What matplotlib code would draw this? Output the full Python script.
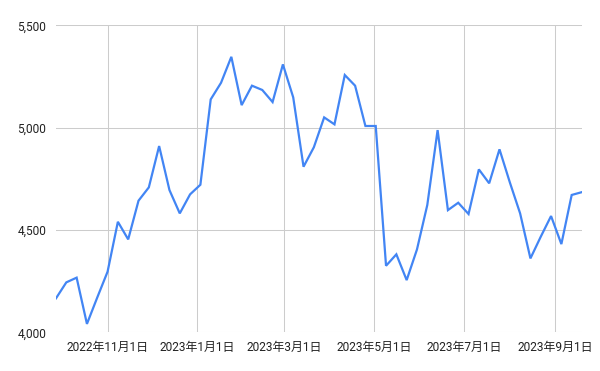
import matplotlib
matplotlib.use("Agg")
import matplotlib.pyplot as plt
import matplotlib.dates as mdates
import pandas as pd

start_date = "2022-09-27"
values = [4166, 4244, 4267, 4041, 4170, 4296, 4540, 4454, 4643, 4708,
          4910, 4695, 4581, 4674, 4721, 5138, 5219, 5346, 5110, 5205,
          5184, 5125, 5309, 5148, 4809, 4904, 5050, 5016, 5257, 5205,
          5008, 5008, 4325, 4381, 4255, 4405, 4622, 4988, 4597, 4633,
          4578, 4796, 4728, 4894, 4733, 4581, 4361, 4467, 4568, 4431,
          4671, 4685]
dates = pd.date_range(start_date, periods=len(values), freq="7D")

x_ticks = ["2022-11-01", "2023-01-01", "2023-03-01", "2023-05-01",
           "2023-07-01", "2023-09-01"]
y_ticks = [4000, 4500, 5000, 5500]

plt.rcParams['font.family'] = ['Roboto', 'Noto Sans CJK JP', 'DejaVu Sans']

fig = plt.figure(figsize=(6.0, 3.71), dpi=100)
ax = fig.add_axes([56/600, 1 - 332.3/371, (582-56)/600, (332.3-25.3)/371])

ax.plot(dates, values, color="#4285F4", linewidth=1.6, solid_joinstyle="miter", zorder=3)

ax.set_xlim(dates[0], dates[-1])
ax.set_ylim(4000, 5500)

xt = pd.to_datetime(x_ticks)
ax.set_xticks(xt)
ax.set_xticklabels([f"{d.year}年{d.month}月{d.day}日" for d in xt])
ax.set_yticks(y_ticks)
ax.set_yticklabels([f"{v:,}" for v in y_ticks])

for s in ax.spines.values():
    s.set_visible(False)
ax.grid(True, color="#cccccc", linewidth=0.75, zorder=0)
ax.tick_params(axis="both", length=0, labelsize=8.6, labelcolor="#222222")
ax.tick_params(axis="y", pad=7)
ax.tick_params(axis="x", pad=6)

fig.savefig("out.png", dpi=100)
